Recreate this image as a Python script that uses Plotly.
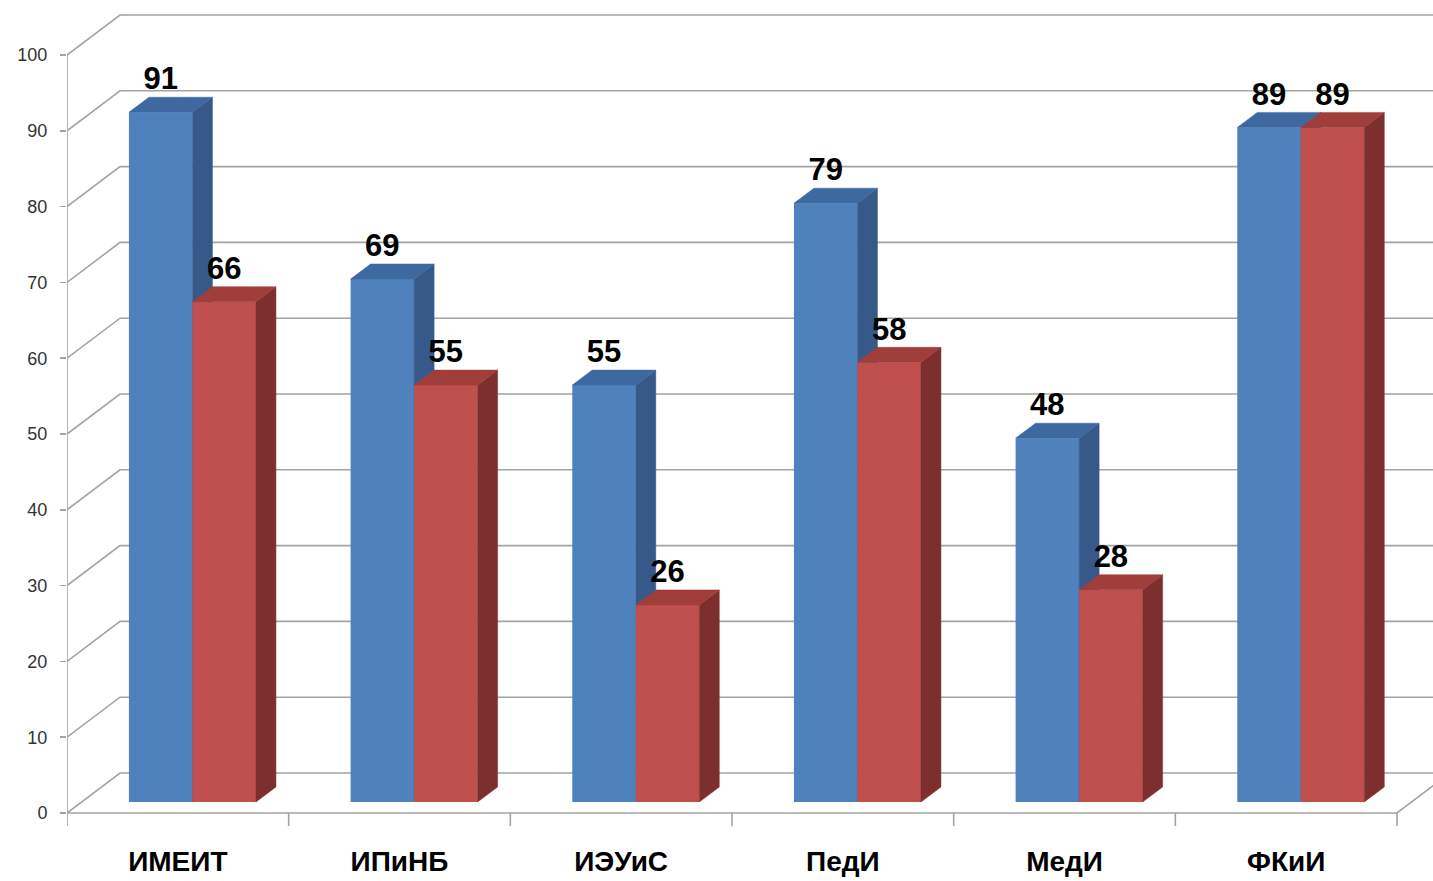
import plotly.graph_objects as go

categories = ["ИМЕИТ", "ИПиНБ", "ИЭУиС", "ПедИ", "МедИ", "ФКиИ"]
series_blue = [91, 69, 55, 79, 48, 89]
series_red = [66, 55, 26, 58, 28, 89]
y_ticks = list(range(0, 101, 10))

# ---- layout geometry (pixels -> data units) ----
W, H = 1433, 881
ML = 67
PLOT_BOTTOM = 830
MB = H - PLOT_BOTTOM
PLOT_W = W - ML
PLOT_H = PLOT_BOTTOM
SLOT_PX = 221.67
PPU = 7.58
n = len(categories)
x_lo = -0.5
x_hi = x_lo + PLOT_W / SLOT_PX
y_hi = 813 / PPU
y_lo = y_hi - PLOT_H / PPU

DX, DY = 53 / SLOT_PX, 40 / PPU        # floor depth
SX, SY = 14.6 / SLOT_PX, 11 / PPU      # bar front plane offset
BDX, BDY = 20 / SLOT_PX, 15 / PPU      # bar depth
BW = 63.5 / SLOT_PX                    # bar width
TICK = 13 / PPU

GRID = "#a3a3a3"
BLUE, BLUE_TOP, BLUE_SIDE = "#4f81bd", "#3e68a0", "#36598a"
RED, RED_TOP, RED_SIDE = "#c0504d", "#9f3e3b", "#7d2f2d"

fig = go.Figure()

# back wall gridlines with diagonals
gx, gy = [], []
for v in y_ticks:
    gx += [x_lo, x_lo + DX, x_hi + 1, None]
    gy += [v, v + DY, v + DY, None]
# front floor edge, right diagonal, front y axis line
gx += [x_lo, n - 0.5, n - 0.5 + DX, None, x_lo, x_lo, None]
gy += [0, 0, DY, None, 0, y_ticks[-1], None]
# category tick marks
for k in range(n + 1):
    gx += [k - 0.5, k - 0.5, None]
    gy += [0, -TICK, None]
fig.add_trace(go.Scatter(x=gx, y=gy, mode="lines", line=dict(color=GRID, width=1.6),
                         hoverinfo="skip", showlegend=False, xaxis="x", yaxis="y"))


def faces(vals, off):
    sx, sy, tx, ty = [], [], [], []
    for i, v in enumerate(vals):
        x0 = i + off
        x1 = x0 + BW
        sx += [x1, x1 + BDX, x1 + BDX, x1, x1, None]
        sy += [0, BDY, v + BDY, v, 0, None]
        tx += [x0, x0 + BDX, x1 + BDX, x1, x0, None]
        ty += [v, v + BDY, v + BDY, v, v, None]
    return sx, sy, tx, ty


for vals, off, cf, ct, cs, xa, ya in [
    (series_blue, -BW, BLUE, BLUE_TOP, BLUE_SIDE, "x2", "y2"),
    (series_red, 0.0, RED, RED_TOP, RED_SIDE, "x3", "y3"),
]:
    fig.add_trace(go.Bar(x=list(range(n)), y=vals, width=BW, offset=off,
                         marker=dict(color=cf, line=dict(width=0)),
                         hoverinfo="skip", showlegend=False, xaxis=xa, yaxis=ya))
    sx, sy, tx, ty = faces(vals, off)
    fig.add_trace(go.Scatter(x=sx, y=sy, mode="lines", fill="toself", fillcolor=cs,
                             line=dict(width=0.5, color=cs), hoverinfo="skip",
                             showlegend=False, xaxis=xa, yaxis=ya))
    fig.add_trace(go.Scatter(x=tx, y=ty, mode="lines", fill="toself", fillcolor=ct,
                             line=dict(width=0.5, color=ct), hoverinfo="skip",
                             showlegend=False, xaxis=xa, yaxis=ya))

# value labels (top layer)
lx = [i - BW / 2 for i in range(n)] + [i + BW / 2 for i in range(n)]
ly = [v + BDY for v in series_blue] + [v + BDY for v in series_red]
lt = [str(v) for v in series_blue] + [str(v) for v in series_red]
fig.add_trace(go.Scatter(x=lx, y=ly, text=lt, mode="text", textposition="top center",
                         textfont=dict(family="Liberation Sans, Arial", size=31,
                                       color="black", weight="bold"),
                         hoverinfo="skip", showlegend=False, xaxis="x3", yaxis="y3",
                         cliponaxis=False))

hidden = dict(visible=False, showgrid=False, zeroline=False, fixedrange=True)
fig.update_layout(
    width=W, height=H,
    margin=dict(l=ML, r=0, t=0, b=MB, pad=0),
    paper_bgcolor="white", plot_bgcolor="white",
    showlegend=False,
    xaxis=dict(range=[x_lo, x_hi], tickvals=list(range(n)), ticktext=categories,
               ticks="", showline=False, showgrid=False, zeroline=False,
               ticklabelstandoff=12,
               tickfont=dict(family="Liberation Sans Narrow, Liberation Sans, Arial",
                             size=28, color="black", weight="bold")),
    yaxis=dict(range=[y_lo, y_hi], tickvals=y_ticks, ticks="outside", ticklen=6,
               tickwidth=1.5, tickcolor=GRID, showline=False, showgrid=False,
               zeroline=False, ticklabelstandoff=9,
               tickfont=dict(family="Liberation Sans, Arial", size=18, color="#333333")),
    xaxis2=dict(overlaying="x", range=[x_lo - SX, x_hi - SX], **hidden),
    yaxis2=dict(overlaying="y", range=[y_lo - SY, y_hi - SY], **hidden),
    xaxis3=dict(overlaying="x", range=[x_lo - SX, x_hi - SX], **hidden),
    yaxis3=dict(overlaying="y", range=[y_lo - SY, y_hi - SY], **hidden),
)

fig.write_html("out.html", config={"displayModeBar": False, "staticPlot": True},
               post_script="document.body.style.margin='0';document.body.style.overflow='hidden';")
